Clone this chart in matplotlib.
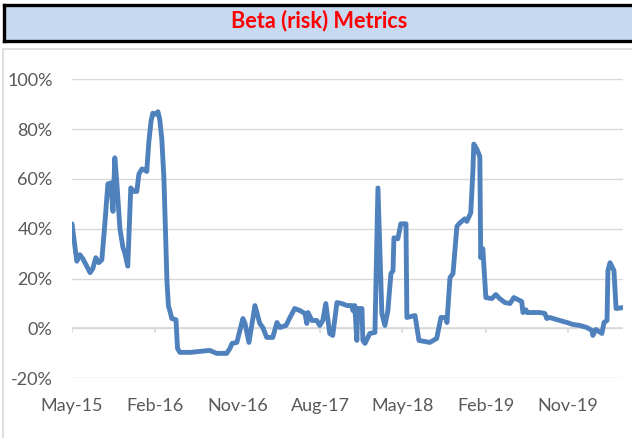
import pandas as pd
import matplotlib
matplotlib.use("Agg")
import matplotlib.pyplot as plt
import matplotlib.dates as mdates
from matplotlib.patches import Rectangle
from matplotlib.ticker import FuncFormatter

# dados (beta, em %)
dates = [
    "2015-05-01", "2015-05-07", "2015-05-17", "2015-05-27", "2015-06-06", "2015-06-19",
    "2015-06-30", "2015-07-09", "2015-07-19", "2015-07-29", "2015-08-08", "2015-08-18",
    "2015-08-28", "2015-09-07", "2015-09-14", "2015-09-20", "2015-09-27", "2015-10-07",
    "2015-10-17", "2015-10-23", "2015-11-02", "2015-11-12", "2015-11-22", "2015-12-02",
    "2015-12-09", "2015-12-19", "2015-12-29", "2016-01-04", "2016-01-11", "2016-01-18",
    "2016-01-24", "2016-02-03", "2016-02-10", "2016-02-16", "2016-02-23", "2016-03-01",
    "2016-03-06", "2016-03-11", "2016-03-16", "2016-03-21", "2016-03-27", "2016-04-10",
    "2016-04-15", "2016-04-23", "2016-05-27", "2016-06-28", "2016-07-31", "2016-08-23",
    "2016-09-25", "2016-10-06", "2016-10-13", "2016-10-29", "2016-11-18", "2016-11-25",
    "2016-12-08", "2016-12-28", "2017-01-13", "2017-01-23", "2017-02-05", "2017-02-25",
    "2017-03-11", "2017-03-21", "2017-04-10", "2017-04-23", "2017-05-09", "2017-05-26",
    "2017-06-12", "2017-06-18", "2017-06-22", "2017-07-05", "2017-07-21", "2017-07-31",
    "2017-08-10", "2017-08-20", "2017-09-02", "2017-09-12", "2017-09-26", "2017-10-12",
    "2017-10-29", "2017-11-14", "2017-11-18", "2017-11-24", "2017-12-01", "2017-12-04",
    "2017-12-18", "2017-12-21", "2017-12-28", "2018-01-13", "2018-01-30", "2018-02-09",
    "2018-02-22", "2018-03-04", "2018-03-14", "2018-03-24", "2018-03-31", "2018-04-03",
    "2018-04-16", "2018-04-26", "2018-05-13", "2018-05-16", "2018-06-12", "2018-06-25",
    "2018-07-31", "2018-08-23", "2018-09-06", "2018-09-22", "2018-09-26", "2018-10-06",
    "2018-10-16", "2018-10-29", "2018-11-08", "2018-11-24", "2018-12-01", "2018-12-14",
    "2018-12-21", "2018-12-24", "2019-01-03", "2019-01-13", "2019-01-16", "2019-01-23",
    "2019-02-02", "2019-02-22", "2019-03-07", "2019-03-20", "2019-04-06", "2019-04-23",
    "2019-05-06", "2019-05-26", "2019-06-01", "2019-06-05", "2019-06-15", "2019-06-18",
    "2019-07-31", "2019-08-17", "2019-08-23", "2019-09-02", "2019-10-05", "2019-10-29",
    "2019-11-18", "2019-12-11", "2020-01-03", "2020-01-20", "2020-01-23", "2020-02-02",
    "2020-02-22", "2020-02-29", "2020-03-10", "2020-03-13", "2020-03-20", "2020-04-02",
    "2020-04-09", "2020-05-02",
]
beta = [
    42, 36.5, 27, 29.6, 28, 25,
    22.4, 24, 28.4, 26.4, 27.6, 42,
    58, 58.4, 47, 68.5, 58, 40,
    32.5, 30.4, 25, 56.4, 55, 55,
    62, 64, 63.6, 63, 75, 83,
    86.4, 86, 87, 84, 76, 60,
    40, 19, 9, 7, 4, 3.5,
    -8, -9.6, -9.6, -9.2, -8.8, -10,
    -10, -8, -6, -5.6, 4, 2,
    -5.6, 9.2, 2, 0.4, -3.6, -3.6,
    2.4, 0.4, 1.2, 4.4, 8, 7.2,
    6, 2, 6.4, 3.2, 3.2, 1.2,
    3.2, 10, -2, -2.8, 10.4, 10,
    9.2, 9.2, 7.2, 9.2, -4.8, 8,
    8, -4.8, -6, -2, -1.6, 56.4,
    6, 1.2, 7.2, 22, 23.2, 36.4,
    36, 42, 42, 4.4, 5.2, -4.8,
    -5.6, -4, 4.4, 4.4, 2.4, 20.4,
    22, 41, 42.4, 44, 43, 46.4,
    63, 74, 72, 69, 28.4, 32,
    12.4, 12, 13.6, 12, 10.4, 10,
    12.4, 11.2, 10.8, 6.4, 7.5, 6.4,
    6.4, 6, 4, 4.4, 3.2, 2.4,
    1.6, 1.2, 0.4, -0.8, -2.8, -0.4,
    -2, 2.4, 3.2, 23.2, 26.4, 23.2,
    8, 8.4,
]
tick_dates = ["2015-05-01", "2016-02-01", "2016-11-01", "2017-08-01",
              "2018-05-01", "2019-02-01", "2019-11-01"]
y_ticks = [-20, 0, 20, 40, 60, 80, 100]

df = pd.DataFrame({"data": pd.to_datetime(dates), "beta": beta})
ticks = pd.to_datetime(tick_dates)

W, H = 632, 438
fig = plt.figure(figsize=(W / 100, H / 100), dpi=100)
plt.rcParams["font.family"] = ["Lato", "DejaVu Sans"]

# moldura cinza do gráfico
fig.patches.append(Rectangle((3 / W, -0.1), 1.2, (H - 49) / H + 0.1, transform=fig.transFigure,
                             fill=False, ec="#D9D9D9", lw=1.2))

# caixa do título
tax = fig.add_axes([4 / W, 1 - 41 / H, 1.05, 36 / H])
tax.set_facecolor("#C6D9F1")
tax.set_xticks([])
tax.set_yticks([])
for s in tax.spines.values():
    s.set_color("black")
    s.set_linewidth(2.4)
fig.text(319 / W, 1 - 21 / H, "Beta (risk) Metrics", color="#FF0000", fontsize=15.7,
         fontweight="bold", ha="center", va="center")

ax = fig.add_axes([72 / W, 1 - 378.3 / H, (623 - 72) / W, (378.3 - 79.3) / H])
ax.plot(df["data"], df["beta"], color="#4F81BD", lw=3.5, solid_joinstyle="round",
        solid_capstyle="round")
ax.set_xlim(df["data"].min(), df["data"].max())
ax.set_ylim(-20, 100)
ax.set_yticks(y_ticks)
ax.yaxis.set_major_formatter(FuncFormatter(lambda v, p: f"{v:.0f}%"))
ax.set_xticks(ticks)
ax.xaxis.set_major_formatter(mdates.DateFormatter("%b-%y"))
ax.grid(axis="y", color="#D9D9D9", lw=1)
ax.set_axisbelow(True)
for s in ax.spines.values():
    s.set_visible(False)
ax.tick_params(length=0, labelcolor="#595959", labelsize=13)
ax.tick_params(axis="y", pad=14)
ax.tick_params(axis="x", pad=14)
# eixo horizontal no 0%
ax.axhline(0, color="#D9D9D9", lw=1.2, zorder=1)
ax.vlines(ticks, -2, 0, color="#D9D9D9", lw=1.2, zorder=1)
ax.patch.set_alpha(0)

fig.savefig("out.png", dpi=100)
